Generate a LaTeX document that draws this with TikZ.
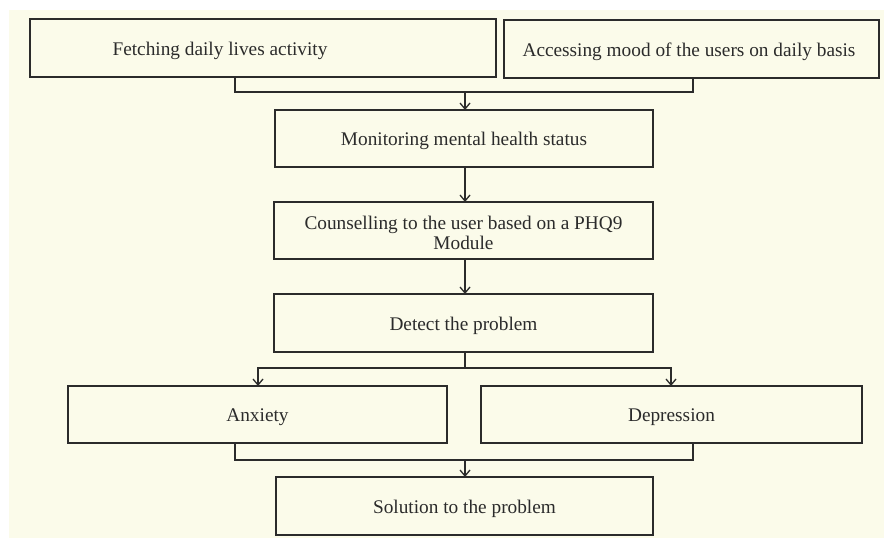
\documentclass[tikz,border=0pt]{standalone}
\usepackage{fontspec}
\setmainfont{Liberation Serif}
\usetikzlibrary{arrows.meta}
\definecolor{paper}{HTML}{FBFBEA}
\definecolor{ink}{HTML}{2B2B2B}
\begin{document}
\begin{tikzpicture}[x=1pt,y=-1pt,
  flowbox/.style={draw=ink,line width=1.3pt,fill=paper},
  label/.style={text=ink,font=\fontsize{19.3}{20.5}\selectfont,align=center,inner sep=0pt,yshift=-2.5pt},
  link/.style={draw=ink,line width=1.3pt},
  flowarrow/.style={link,-{Straight Barb[length=6pt,width=10pt,line width=1.3pt]}}]
% canvas
\fill[white] (0,0) rectangle (884,540);
\useasboundingbox (0,0) rectangle (884,540);
\fill[paper] (9,10) rectangle (884,538);
% boxes
\path[flowbox] (30,19) rectangle (496,77);
\node[label] (fetch) at (220,48) {Fetching daily lives activity};
\path[flowbox] (504,20) rectangle (879,78);
\node[label] (mood) at (689,49) {Accessing mood of the users on daily basis};
\path[flowbox] (275,110) rectangle (653,167);
\node[label] (monitor) at (464,138.5) {Monitoring mental health status};
\path[flowbox] (274,202) rectangle (653,259);
\node[label] (counsel) at (463.5,230.5) {Counselling to the user based on a PHQ9\\Module};
\path[flowbox] (274,294) rectangle (653,352);
\node[label] (detect) at (463.5,323) {Detect the problem};
\path[flowbox] (68,386) rectangle (447,443);
\node[label] (anx) at (257.5,414.5) {Anxiety};
\path[flowbox] (481,386) rectangle (862,443);
\node[label] (dep) at (671.5,414.5) {Depression};
\path[flowbox] (276,477) rectangle (653,535);
\node[label] (sol) at (464.5,506) {Solution to the problem};
% connectors
\coordinate (fetchout) at (235,77);
\coordinate (moodout) at (693,78);
\coordinate (topjoin) at (465,92);
\coordinate (monin) at (465,110);
\draw[link] (fetchout) |- (topjoin) -| (moodout);
\draw[flowarrow] (topjoin) -- (monin);
\coordinate (monout) at (465,167);
\coordinate (counin) at (465,202);
\draw[flowarrow] (monout) -- (counin);
\coordinate (counout) at (465,259);
\coordinate (detin) at (465,294);
\draw[flowarrow] (counout) -- (detin);
\coordinate (detout) at (465,352);
\coordinate (split) at (465,368);
\coordinate (anxin) at (258,386);
\coordinate (depin) at (671,386);
\draw[link] (detout) -- (split);
\draw[flowarrow] (split) -| (anxin);
\draw[flowarrow] (split) -| (depin);
\coordinate (anxout) at (235,443);
\coordinate (depout) at (693,443);
\coordinate (botjoin) at (465,460);
\coordinate (solin) at (465,477);
\draw[link] (anxout) |- (botjoin) -| (depout);
\draw[flowarrow] (botjoin) -- (solin);
\end{tikzpicture}
\end{document}
